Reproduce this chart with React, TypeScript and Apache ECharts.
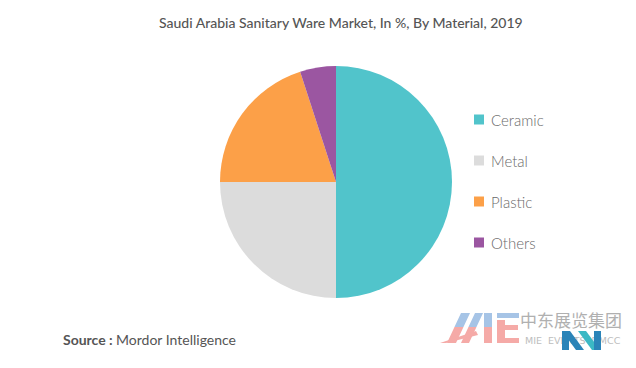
import React, { useEffect, useRef } from "react";
import * as echarts from "echarts";

const categories = ["Ceramic", "Metal", "Plastic", "Others"];
const values = [50, 25, 20, 5];
const colors = ["#51c4cb", "#dcdcdc", "#fca048", "#9b56a1"];
const titleText = "Saudi Arabia Sanitary Ware Market, In %, By Material, 2019";

const BLUE = "#a6c4e6";
const PINK = "#f5aaa7";

export default function App() {
  const ref = useRef<HTMLDivElement>(null);
  useEffect(() => {
    if (!ref.current) return;
    const chart = echarts.init(ref.current, null, { renderer: "svg" });
    const slant = (x0: number, w: number) => {
      const k = 14 / 30;
      const xm = x0 + k * 16;
      return [
        { type: "polygon", shape: { points: [[xm, 327], [x0 + 14, 313], [x0 + 14 + w, 313], [xm + w, 327]] }, style: { fill: BLUE } },
        { type: "polygon", shape: { points: [[x0, 343], [xm, 327], [xm + w, 327], [x0 + w, 343]] }, style: { fill: PINK } },
      ];
    };
    chart.setOption({
      animation: false,
      backgroundColor: "#ffffff",
      title: {
        text: titleText,
        left: 154,
        top: 10,
        textStyle: { fontFamily: "Lato", fontSize: 14, fontWeight: 500, color: "#555555" },
      },
      legend: {
        orient: "vertical",
        left: 469,
        top: 107,
        itemWidth: 10,
        itemHeight: 10,
        itemGap: 26,
        icon: "rect",
        data: categories,
        textStyle: { fontFamily: "Lato", fontSize: 15, fontWeight: 300, color: "#6a6a6a", padding: [0, 0, 0, 2] },
      },
      series: [
        {
          type: "pie",
          center: [336, 182],
          radius: [0, 116],
          startAngle: 90,
          clockwise: true,
          label: { show: false },
          labelLine: { show: false },
          silent: true,
          data: categories.map((c, i) => ({ name: c, value: values[i], itemStyle: { color: colors[i] } })),
        },
      ],
      graphic: [
        {
          type: "text",
          left: 63,
          top: 332,
          style: {
            text: "{b|Source :} {n|Mordor Intelligence}",
            rich: {
              b: { fontFamily: "Lato", fontSize: 14, fontWeight: "bold", fill: "#555555" },
              n: { fontFamily: "Lato", fontSize: 14, fill: "#555555" },
            },
          },
        },
        ...slant(447, 9),
        ...slant(461, 8),
        { type: "rect", shape: { x: 484, y: 313, width: 8, height: 14 }, style: { fill: BLUE } },
        { type: "rect", shape: { x: 484, y: 327, width: 8, height: 16 }, style: { fill: PINK } },
        { type: "rect", shape: { x: 497, y: 313, width: 22, height: 5 }, style: { fill: BLUE } },
        { type: "rect", shape: { x: 497, y: 320, width: 8, height: 23 }, style: { fill: PINK } },
        { type: "rect", shape: { x: 505, y: 325, width: 13, height: 5 }, style: { fill: PINK } },
        { type: "rect", shape: { x: 505, y: 338, width: 14, height: 5 }, style: { fill: PINK } },
        { type: "polygon", shape: { points: [[440, 343], [476, 331], [478, 335], [446, 343]] }, style: { fill: PINK } },
        {
          type: "text",
          left: 520,
          top: 311,
          style: { text: "中东展览集团", fontFamily: "Noto Sans CJK SC", fontSize: 17, fill: "#b0b0b0" },
        },
        {
          type: "text",
          left: 525,
          top: 335,
          style: { text: "MIE  EVENTS  DMCC", fontFamily: "DejaVu Sans", fontSize: 9.5, fill: "#bdbdbd" },
        },
        { type: "rect", shape: { x: 562, y: 331, width: 7, height: 19 }, style: { fill: "#2b84b8" } },
        { type: "polygon", shape: { points: [[562, 331], [570, 331], [584, 350], [576, 350]] }, style: { fill: "#2b84b8" } },
        { type: "polygon", shape: { points: [[578, 331], [586, 331], [600, 350], [592, 350]] }, style: { fill: "#3bb8c4" } },
        { type: "rect", shape: { x: 594, y: 331, width: 7, height: 19 }, style: { fill: "#2b84b8" } },
      ],
    });
    return () => chart.dispose();
  }, []);
  return <div ref={ref} style={{ width: 636, height: 368, margin: -8 }} />;
}
